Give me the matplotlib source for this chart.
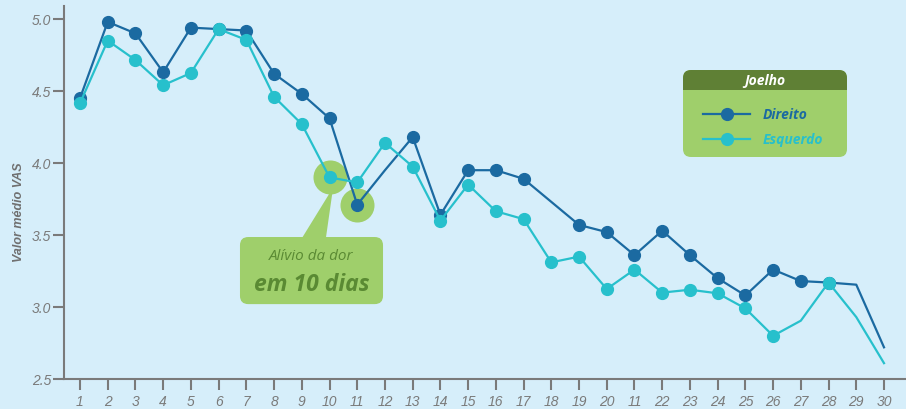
import matplotlib
matplotlib.use("Agg")
import matplotlib.pyplot as plt
from matplotlib.patches import FancyBboxPatch, Rectangle, Polygon
from matplotlib.lines import Line2D

plt.rcParams['font.family'] = ['Open Sans', 'DejaVu Sans']

# Dados
dias = list(range(1, 31))
rotulos_x = [str(d) for d in dias]
rotulos_x[20] = "11"  # o original mostra "11" no lugar de 21

direito = [4.45, 4.98, 4.90, 4.63, 4.94, 4.93, 4.92, 4.62, 4.48, 4.31,
           3.71, 3.95, 4.18, 3.64, 3.95, 3.95, 3.89, 3.73, 3.57, 3.52,
           3.36, 3.53, 3.36, 3.20, 3.08, 3.26, 3.18, 3.17, 3.155, 2.72]
esquerdo = [4.415, 4.85, 4.715, 4.54, 4.625, 4.93, 4.855, 4.46, 4.27, 3.90,
            3.865, 4.14, 3.975, 3.60, 3.85, 3.665, 3.61, 3.31, 3.35, 3.125,
            3.26, 3.10, 3.12, 3.095, 2.99, 2.80, 2.905, 3.17, 2.93, 2.61]

marcas_direito = [i for i in range(28) if i not in (11, 17)]
marcas_esquerdo = [i for i in range(26)] + [27]

y_ticks = [2.5, 3.0, 3.5, 4.0, 4.5, 5.0]

fundo = "#d6eefa"
azul = "#1b6aa1"
ciano = "#27c0cc"
verde = "#9fcf6b"
verde_esc = "#5f8035"
verde_txt = "#5a8a33"
cinza = "#7a7a7a"

W, H = 906, 410
fig = plt.figure(figsize=(W / 100, H / 100), dpi=100, facecolor=fundo)
ax = fig.add_axes([64 / W, 30 / H, (W - 64) / W, (380 - 7) / H])
ax.set_facecolor(fundo)

# destaque verde
ax.scatter([dias[9]], [esquerdo[9]], s=600, color=verde, zorder=1, linewidths=0)
ax.scatter([dias[10]], [direito[10]], s=600, color=verde, zorder=1, linewidths=0)

ax.plot(dias, direito, color=azul, lw=1.6, marker='o', ms=8.5,
        markevery=marcas_direito, zorder=3)
ax.plot(dias, esquerdo, color=ciano, lw=1.6, marker='o', ms=8.5,
        markevery=marcas_esquerdo, zorder=4)

ax.set_xlim(1 - 16 / 27.72, 30 + 22 / 27.72)
ax.set_ylim(2.5, 5.0 + 13 / 144)
ax.set_xticks(dias)
ax.set_xticklabels(rotulos_x)
ax.set_yticks(y_ticks)
ax.set_yticklabels([f"{v:.1f}" for v in y_ticks])

for s in ['top', 'right']:
    ax.spines[s].set_visible(False)
for s in ['left', 'bottom']:
    ax.spines[s].set_color(cinza)
    ax.spines[s].set_linewidth(1.5)
ax.tick_params(axis='both', colors=cinza, length=8, width=1.5, labelsize=10)
ax.tick_params(axis='x', pad=2.5)
ax.tick_params(axis='y', pad=1)
for lab in ax.get_xticklabels() + ax.get_yticklabels():
    lab.set_style('italic')
    lab.set_color(cinza)
    lab.set_family('Liberation Sans')

fig.text(19 / W, 1 - 212 / H, "Valor médio VAS", rotation=90, ha='center', va='center',
         fontsize=9, fontweight='bold', style='italic', color='#707070',
         family='Liberation Sans')

# caixa de anotação (coordenadas de dados)
asp = (1 / 144) / (1 / 27.72)
caixa = FancyBboxPatch((6.77, 3.02), 11.93 - 6.77, 3.486 - 3.02,
                       boxstyle="round,pad=0,rounding_size=0.3",
                       mutation_aspect=asp, facecolor=verde, edgecolor='none',
                       zorder=2, clip_on=False)
ax.add_patch(caixa)
ax.add_patch(Polygon([(9.01, 3.48), (9.87, 3.48), (10.13, 3.83)], closed=True,
                     facecolor=verde, edgecolor='none', zorder=2))
ax.text(9.35, 3.36, "Alívio da dor", ha='center', va='center', fontsize=11,
        style='italic', color=verde_txt, zorder=5)
ax.text(9.35, 3.16, "em 10 dias", ha='center', va='center', fontsize=16.5,
        style='italic', fontweight='bold', color=verde_txt, zorder=5)


# legenda manual (pixels -> fração da figura)
def fx(px):
    return px / W


def fy(py):
    return 1 - py / H


fasp = (1 / H) / (1 / W)
x0, x1, y0, y1, yh = 683, 847, 71, 158, 91
fig.add_artist(FancyBboxPatch((fx(x0), fy(y1)), fx(x1) - fx(x0), fy(y0) - fy(y1),
                              boxstyle=f"round,pad=0,rounding_size={8 / W}",
                              mutation_aspect=fasp, transform=fig.transFigure,
                              facecolor=verde, edgecolor='none'))
fig.add_artist(FancyBboxPatch((fx(x0), fy(yh + 10)), fx(x1) - fx(x0), fy(y0) - fy(yh + 10),
                              boxstyle=f"round,pad=0,rounding_size={8 / W}",
                              mutation_aspect=fasp, transform=fig.transFigure,
                              facecolor=verde_esc, edgecolor='none'))
fig.add_artist(Rectangle((fx(x0), fy(yh + 10)), fx(x1) - fx(x0), fy(yh) - fy(yh + 10),
                         transform=fig.transFigure, facecolor=verde, edgecolor='none'))
fig.text(fx(765), fy(81), "Joelho", ha='center', va='center', fontsize=10,
         fontweight='bold', style='italic', color='white')
for nome, cor, py in [("Direito", azul, 115), ("Esquerdo", ciano, 140)]:
    fig.add_artist(Line2D([fx(703), fx(750)], [fy(py), fy(py)], color=cor, lw=1.6,
                          transform=fig.transFigure))
    fig.add_artist(Line2D([fx(726.5)], [fy(py)], color=cor, marker='o', ms=8.5,
                          transform=fig.transFigure))
    fig.text(fx(763), fy(py), nome, ha='left', va='center', fontsize=10,
             fontweight='bold', style='italic', color=cor)

fig.savefig("out.png", dpi=100, facecolor=fundo)
